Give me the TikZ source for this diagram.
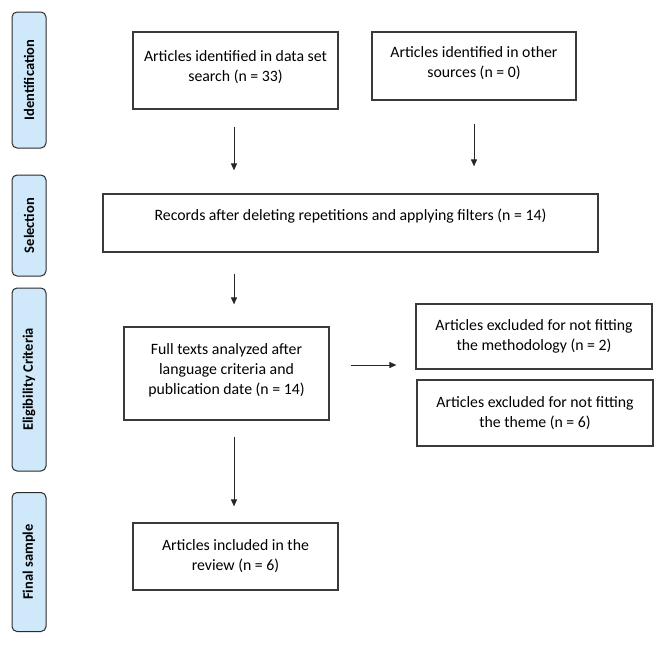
\documentclass[tikz,border=0pt]{standalone}
\usepackage{fontspec}
\setmainfont{Carlito}
\usetikzlibrary{arrows.meta,calc}
\definecolor{sidefill}{HTML}{CFE9FB}
\definecolor{sideline}{HTML}{2B2B2B}
\definecolor{boxline}{HTML}{3A3A3A}
\newcommand{\boxtext}[4]{\parbox[c][#2pt][t]{#1pt}{\centering\rule{0pt}{#3pt}#4\par}}
\begin{document}
\begin{tikzpicture}[x=1pt,y=-1pt,
  sidebox/.style={draw=sideline, fill=sidefill, line width=1pt, rounded corners=5pt,
    inner sep=0pt, rotate=90, font=\fontsize{14.5}{16}\selectfont\bfseries},
  flowbox/.style={draw=boxline, line width=1.2pt, inner sep=0pt,
    font=\fontsize{15.8}{20}\selectfont},
  arr/.style={draw=black!85, line width=1pt, -{Triangle[length=7pt,width=6pt]}}]
\useasboundingbox (0,0) rectangle (666,645);
% side labels
\node[sidebox, minimum width=136pt, minimum height=34pt] (sid) at (29,80) {Identification};
\node[sidebox, minimum width=101pt, minimum height=34pt] (ssel) at (29,225.5) {Selection};
\node[sidebox, minimum width=183pt, minimum height=34pt] (selig) at (29,379.5) {Eligibility Criteria};
\node[sidebox, minimum width=139pt, minimum height=34pt] (sfin) at (29,562) {Final sample};
% boxes
\node[flowbox] (A) at (235.5,70.5) {\boxtext{205}{77}{29}{Articles identified in data set\\search (n = 33)}};
\node[flowbox] (B) at (474,66) {\boxtext{204}{68}{25}{Articles identified in other\\sources (n = 0)}};
\node[flowbox] (C) at (350.5,223) {\boxtext{495}{58}{26}{Records after deleting repetitions and applying filters (n = 14)}};
\node[flowbox] (D) at (226.5,373.5) {\boxtext{205}{93}{27}{Full texts analyzed after\\language criteria and\\publication date (n = 14)}};
\node[flowbox] (E) at (534,336.5) {\boxtext{236}{65}{26}{Articles excluded for not fitting\\the methodology (n = 2)}};
\node[flowbox] (F) at (535,413) {\boxtext{236}{66}{27}{Articles excluded for not fitting\\the theme (n = 6)}};
\node[flowbox] (G) at (235.5,556.5) {\boxtext{205}{67}{27}{Articles included in the\\review (n = 6)}};
% connectors
\draw[arr, shorten <=17pt, shorten >=23pt] ([xshift=-1.5pt]A.south) -- ([xshift=-1.5pt]A.south |- C.north);
\draw[arr, shorten <=23pt, shorten >=27pt] (B.south) -- (B.south |- C.north);
\draw[arr, shorten <=21pt, shorten >=22pt] ([xshift=-1.5pt]A.south |- C.south) -- ([xshift=-1.5pt]A.south |- D.north);
\draw[arr, shorten <=21pt, shorten >=19pt] ([yshift=8.5pt]D.east) -- ([yshift=8.5pt]D.east -| E.west);
\draw[arr, shorten <=16pt, shorten >=16pt] ([xshift=-1.5pt]A.south |- D.south) -- ([xshift=-1.5pt]A.south |- G.north);
\end{tikzpicture}
\end{document}
